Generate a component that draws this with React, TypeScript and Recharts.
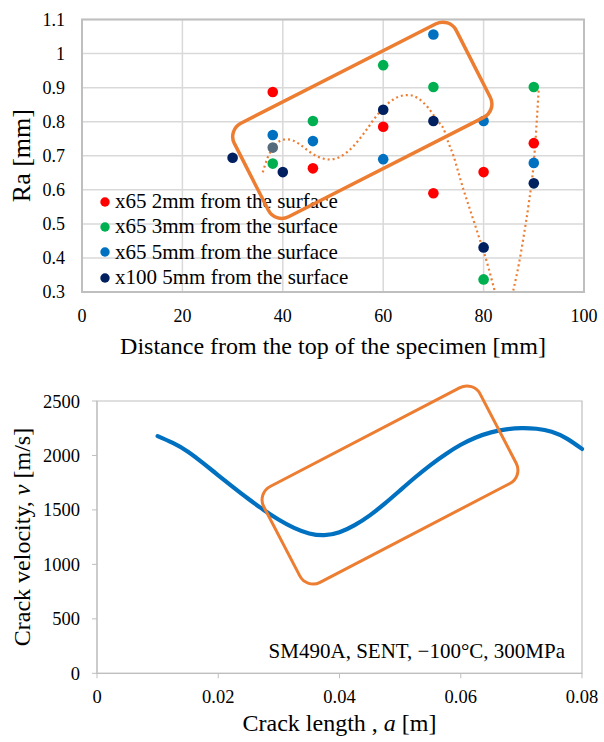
import React from "react";
import {
  ComposedChart, Scatter, Line, XAxis, YAxis, CartesianGrid,
  ReferenceArea, Legend, Cell,
} from "recharts";

const FONT = '"Liberation Serif", "Times New Roman", serif';
const ORANGE = "#ED7D31";

// --- top chart: surface roughness vs distance ---
const seriesLabels = [
  "x65 2mm from the surface",
  "x65 3mm from the surface",
  "x65 5mm from the surface",
  "x100 5mm from the surface",
];
const x65Dist = [38, 46, 60, 70, 80, 90];
const ra2mm = [0.887, 0.663, 0.785, 0.59, 0.652, 0.737];
const ra3mm = [0.677, 0.802, 0.966, 0.902, 0.337, 0.902];
const ra5mm = [0.761, 0.743, 0.69, 1.056, 0.802, 0.679];
const x100Dist = [30, 38, 40, 60, 70, 80, 90];
const ra100 = [0.694, 0.724, 0.652, 0.835, 0.802, 0.431, 0.619];

// polynomial trend line
const trendX = [36, 37, 38, 39, 40, 41, 42, 43, 44, 45, 46, 47, 48, 49, 50, 51, 52, 53, 54, 55, 56, 57, 58, 59, 60, 61, 62, 63, 64, 65, 66, 67, 68, 69, 70, 71, 72, 73, 74, 75, 76, 77, 78, 79, 80, 81, 82, 83, 84, 85, 86, 87, 88, 89, 90, 91];
const trendY = [0.651, 0.695, 0.722, 0.739, 0.747, 0.748, 0.745, 0.737, 0.727, 0.715, 0.705, 0.697, 0.692, 0.689, 0.69, 0.694, 0.702, 0.713, 0.727, 0.744, 0.763, 0.783, 0.804, 0.823, 0.84, 0.854, 0.865, 0.873, 0.877, 0.878, 0.876, 0.868, 0.856, 0.84, 0.82, 0.8, 0.78, 0.738, 0.7, 0.65, 0.6, 0.555, 0.51, 0.465, 0.42, 0.37, 0.315, 0.265, 0.235, 0.245, 0.31, 0.38, 0.465, 0.56, 0.68, 0.9];

const distTicks = [0, 20, 40, 60, 80, 100];
const raTicks = [0.3, 0.4, 0.5, 0.6, 0.7, 0.8, 0.9, 1, 1.1];

// --- bottom chart: crack velocity ---
const crackA = [0.01, 0.0125, 0.015, 0.0175, 0.02, 0.0225, 0.025, 0.0275, 0.03, 0.0325, 0.035, 0.0375, 0.04, 0.0425, 0.045, 0.0475, 0.05, 0.0525, 0.055, 0.0575, 0.06, 0.0625, 0.065, 0.0675, 0.07, 0.0725, 0.075, 0.0775, 0.08];
const crackV = [2178, 2115, 2035, 1930, 1818, 1707, 1600, 1500, 1410, 1335, 1284, 1268, 1295, 1360, 1450, 1560, 1680, 1800, 1912, 2012, 2098, 2165, 2212, 2240, 2251, 2245, 2218, 2155, 2060];
const aTicks = [0, 0.02, 0.04, 0.06, 0.08];
const vTicks = [0, 500, 1000, 1500, 2000, 2500];

const pts = (xs: number[], ys: number[]) => xs.map((x, i) => ({ x, y: ys[i] }));
const crackData = crackA.map((a, i) => ({ a, v: crackV[i] }));

const tick18 = { fill: "#000", fontSize: 18, fontFamily: FONT };
const tick185 = { fill: "#000", fontSize: 18.5, fontFamily: FONT };

const dot = (p: any) => <circle cx={p.cx} cy={p.cy} r={5.3} fill={p.fill} />;

function RaLegend({ payload }: any) {
  const items = (payload || [])
    .filter((e: any) => seriesLabels.includes(e.value))
    .sort((a: any, b: any) => seriesLabels.indexOf(a.value) - seriesLabels.indexOf(b.value));
  return (
    <div style={{ fontFamily: FONT, fontSize: 21, color: "#000" }}>
      {items.map((e: any) => (
        <div key={e.value} style={{ display: "flex", alignItems: "center", height: 25.3, whiteSpace: "nowrap" }}>
          <svg width={15} height={12} style={{ flex: "none" }}>
            <circle cx={5} cy={6} r={4.7} fill={e.color} />
          </svg>
          <span>{e.value}</span>
        </div>
      ))}
    </div>
  );
}

export default function App() {
  return (
    <div style={{ position: "absolute", left: 0, top: 0, width: 604, height: 742, background: "#fff" }}>
      <div style={{ position: "absolute", left: 0, top: 0 }}>
        <ComposedChart width={604} height={370} margin={{ top: 19.5, right: 20, bottom: 0, left: 0 }}>
          <CartesianGrid stroke="#d9d9d9" strokeWidth={1.5} />
          <XAxis type="number" dataKey="x" domain={[0, 100]} ticks={distTicks} interval={0}
                 axisLine={false} tickLine={false} tickSize={0} tickMargin={17} height={78} tick={tick18} />
          <YAxis type="number" dataKey="y" domain={[0.3, 1.1]} ticks={raTicks} interval={0} allowDataOverflow
                 axisLine={false} tickLine={false} tickSize={0} tickMargin={17} width={82} tick={tick18} />
          <ReferenceArea x1={0} x2={100} y1={0.3} y2={1.1} fill="none" fillOpacity={0} stroke="#bfbfbf" strokeWidth={2} />
          <Scatter name={seriesLabels[0]} data={pts(x65Dist, ra2mm)} fill="#FF0000" shape={dot} isAnimationActive={false} />
          <Scatter name={seriesLabels[1]} data={pts(x65Dist, ra3mm)} fill="#00B050" shape={dot} isAnimationActive={false} />
          <Scatter name={seriesLabels[2]} data={pts(x65Dist, ra5mm)} fill="#0070C0" shape={dot} isAnimationActive={false} />
          <Scatter name={seriesLabels[3]} data={pts(x100Dist, ra100)} fill="#002060" shape={dot} isAnimationActive={false}>
            {x100Dist.map((d, i) => (
              <Cell key={d} fill={i === 1 ? "#566b7c" : "#002060"} />
            ))}
          </Scatter>
          <Line data={pts(trendX, trendY)} dataKey="y" type="monotone" stroke={ORANGE} strokeWidth={2.2}
                strokeDasharray="2 3" dot={false} activeDot={false} legendType="none" isAnimationActive={false} />
          <Legend layout="vertical" align="center" verticalAlign="middle" content={<RaLegend />}
                  wrapperStyle={{ left: 100, top: 189, width: "auto" }} />
        </ComposedChart>
      </div>

      <div style={{ position: "absolute", left: 0, top: 370 }}>
        <ComposedChart width={604} height={372} data={crackData} margin={{ top: 31, right: 22, bottom: 0, left: 0 }}>
          <XAxis type="number" dataKey="a" domain={[0, 0.08]} ticks={aTicks} interval={0}
                 axisLine={{ stroke: "#bfbfbf" }} tickLine={{ stroke: "#bfbfbf" }} tickSize={5} tickMargin={12}
                 height={68.7} tick={tick185} />
          <YAxis type="number" domain={[0, 2500]} ticks={vTicks} interval={0}
                 axisLine={{ stroke: "#bfbfbf" }} tickLine={{ stroke: "#bfbfbf" }} tickSize={5} tickMargin={12}
                 width={97} tick={tick185} />
          <ReferenceArea x1={0} x2={0.08} y1={0} y2={2500} fill="none" fillOpacity={0} stroke="#bfbfbf" strokeWidth={1.2} />
          <Line dataKey="v" type="natural" stroke="#0070C0" strokeWidth={4.2} strokeLinecap="round"
                dot={false} activeDot={false} isAnimationActive={false} />
        </ComposedChart>
      </div>

      <svg width={604} height={742} style={{ position: "absolute", left: 0, top: 0, pointerEvents: "none" }}
           fontFamily={FONT} fill="#000">
        <text transform="translate(30,155.6) rotate(-90)" textAnchor="middle" fontSize={26}>Ra [mm]</text>
        <text x={333} y={354} textAnchor="middle" fontSize={24}>Distance from the top of the specimen [mm]</text>
        <text transform="translate(30,537) rotate(-90)" textAnchor="middle" fontSize={24}>
          {"Crack velocity, "}<tspan fontStyle="italic">v</tspan>{" [m/s]"}
        </text>
        <text x={339.5} y={731} textAnchor="middle" fontSize={24}>
          {"Crack length , "}<tspan fontStyle="italic">a</tspan>{" [m]"}
        </text>
        <text x={565} y={658} textAnchor="end" fontSize={21}>SM490A, SENT, −100°C, 300MPa</text>
        <rect x={-124.5} y={-52.5} width={249} height={105} rx={15} transform="translate(362.3,120.3) rotate(-27)"
              fill="none" stroke={ORANGE} strokeWidth={3.5} />
        <rect x={-122} y={-54} width={244} height={108} rx={15} transform="translate(390,485) rotate(-27.5)"
              fill="none" stroke={ORANGE} strokeWidth={3} />
      </svg>
    </div>
  );
}
